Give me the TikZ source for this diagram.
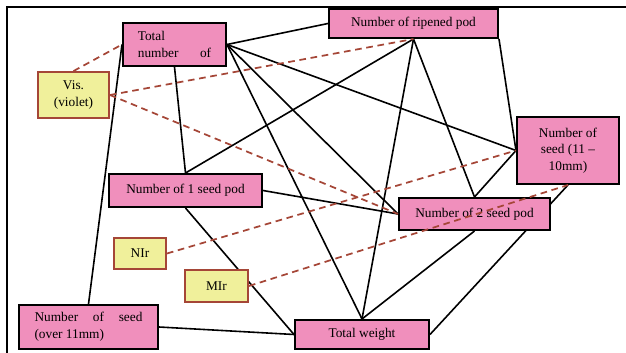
\documentclass[tikz,border=0pt]{standalone}
\usepackage{fontspec}
\setmainfont{Liberation Serif}
\usetikzlibrary{backgrounds}
\definecolor{podpink}{RGB}{240,143,188}
\definecolor{irbuff}{RGB}{240,240,155}
\definecolor{irbrown}{RGB}{165,70,55}
\tikzset{
  trait/.style={draw=black,line width=1.5pt,fill=podpink,inner sep=0pt,font=\fontsize{10}{12.5}\selectfont},
  marker/.style={draw=irbrown,line width=1.4pt,fill=irbuff,inner sep=0pt,font=\fontsize{10}{12.5}\selectfont},
  link/.style={line width=1.2pt},
  irlink/.style={draw=irbrown,line width=1.3pt,dash pattern=on 5pt off 3.5pt}
}
\begin{document}
\begin{tikzpicture}[x=0.75pt,y=-0.75pt]
\useasboundingbox (0,0) rectangle (626,353);
\draw[line width=1pt] (7,360) -- (7,7) -- (640,7);
% traits
\node[trait,minimum width=77.25pt,minimum height=32.25pt,align=left] (total) at (174.5,44.5) {Total\\\hbox to 55pt{number\hfill of}};
\node[trait,minimum width=126.75pt,minimum height=21.75pt] (ripe) at (413.5,23.5) {Number of ripened pod};
\node[trait,minimum width=76.5pt,minimum height=50.25pt,align=center] (seedmid) at (568,150.5) {Number of\\seed (11 –\\10mm)};
\node[trait,minimum width=114.75pt,minimum height=24.75pt] (onepod) at (185.5,190.5) {Number of 1 seed pod};
\node[trait,minimum width=113.25pt,minimum height=24pt] (twopod) at (474.5,214) {Number of 2 seed pod};
\node[trait,minimum width=104.25pt,minimum height=33pt,align=left] (seedbig) at (88.5,327) {\hbox to 81pt{Number\hfill of\hfill seed}\\(over 11mm)};
\node[trait,minimum width=100.5pt,minimum height=21.75pt] (weight) at (362,334.5) {Total weight};
% markers
\node[marker,minimum width=53.25pt,minimum height=34.5pt,align=center] (vis) at (73.5,95) {Vis.\\(violet)};
\node[marker,minimum width=39pt,minimum height=23.25pt] (nir) at (140,253.5) {NIr};
\node[marker,minimum width=47.25pt,minimum height=24pt] (mir) at (216.5,286) {MIr};
\begin{scope}[on background layer]
\draw[link] (total.east) -- (ripe.west);
\draw[link] (total.east) -- (seedmid.west);
\draw[link] (total.east) -- (twopod.west);
\draw[link] (total.east) -- (weight.north);
\draw[link] (total.south) -- (onepod.north);
\draw[link] (total.west) -- (seedbig.north);
\draw[link] (ripe.south) -- (onepod.north);
\draw[link] (ripe.south) -- (weight.north);
\draw[link] (ripe.south) -- (twopod.north);
\draw[link] (ripe.south east) -- (seedmid.west);
\draw[link] (seedmid.west) -- (twopod.north);
\draw[link] (seedmid.south) -- (weight.east);
\draw[link] (onepod.east) -- (twopod.west);
\draw[link] (onepod.south) -- (weight.west);
\draw[link] (seedbig.east) -- (weight.west);
\draw[link] (twopod.south) -- (weight.north);
\end{scope}
\draw[irlink] (vis.north) -- (total.west);
\draw[irlink] (vis.east) -- (ripe.south);
\draw[irlink] (vis.east) -- (twopod.west);
\draw[irlink] (nir.east) -- (seedmid.west);
\draw[irlink] (mir.east) -- (seedmid.south);
\end{tikzpicture}
\end{document}
